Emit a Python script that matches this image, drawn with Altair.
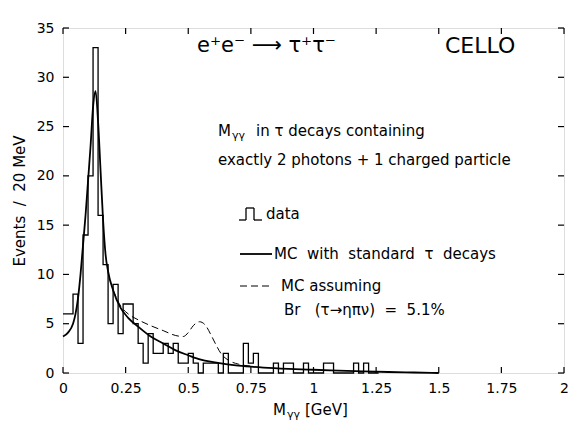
import altair as alt
import pandas as pd

# ---------------- data ----------------
bin_width = 0.02
counts = [6, 6, 8, 3, 14, 20, 33, 16, 11, 5,
          9, 4, 7, 7, 5, 3, 1, 4, 2, 2,
          3, 2, 3, 1, 1, 2, 1, 0, 1, 1,
          1, 0, 2, 0, 0, 0, 3, 1, 2, 0,
          0, 0, 1, 0, 1, 1, 0, 0, 1, 0,
          0, 0, 1, 1, 0, 0, 0, 0, 1, 0,
          1, 0, 0]

mc_std_x = [0.0, 0.02, 0.04, 0.05, 0.06, 0.07, 0.08, 0.09, 0.10, 0.11, 0.12, 0.13,
            0.14, 0.15, 0.16, 0.17, 0.18, 0.20, 0.23, 0.26, 0.30, 0.35, 0.40, 0.45,
            0.50, 0.55, 0.60, 0.65, 0.70, 0.80, 0.90, 1.00, 1.10, 1.20, 1.30, 1.40, 1.50]
mc_std_y = [3.7, 4.1, 5.0, 6.0, 7.6, 10.0, 13.0, 16.0, 19.5, 23.0, 27.0, 28.6,
            25.5, 20.5, 15.5, 12.0, 10.3, 8.4, 6.6, 5.6, 4.7, 3.7, 3.0, 2.3,
            1.8, 1.35, 1.1, 0.9, 0.75, 0.55, 0.42, 0.33, 0.25, 0.17, 0.1, 0.05, 0.0]

mc_eta_x = [0.20, 0.23, 0.26, 0.30, 0.35, 0.40, 0.45, 0.48, 0.50, 0.52, 0.545,
            0.57, 0.59, 0.61, 0.63, 0.66, 0.70, 0.75]
mc_eta_y = [8.4, 6.8, 6.0, 5.4, 4.8, 4.3, 3.8, 3.7, 4.1, 4.8, 5.2,
            4.8, 3.9, 2.9, 2.0, 1.3, 0.9, 0.7]

x_ticks = [0, 0.25, 0.5, 0.75, 1, 1.25, 1.5, 1.75, 2]
y_ticks = [0, 5, 10, 15, 20, 25, 30, 35]

NB = "\u00a0"
reaction_text = ["e⁺e⁻ ⟶ τ⁺τ⁻"]
experiment_text = ["CELLO"]
line1_main = ["M"]
line1_sub = ["γγ"]
line1_rest = ["in τ decays containing"]
line2_text = ["exactly 2 photons + 1 charged particle"]
legend_data = ["data"]
legend_std = [f"MC{NB} with{NB} standard{NB} τ{NB} decays"]
legend_eta1 = ["MC assuming"]
legend_eta2 = [f"Br{NB}{NB} (τ→ηπν){NB} ={NB} 5.1%"]
xtitle_main = ["M"]
xtitle_sub = ["γγ"]
xtitle_rest = ["[GeV]"]
ytitle = f"Events{NB} /{NB} 20{NB}MeV"

# ---------------- build ----------------
W, H = 501, 345
FONT = "DejaVu Sans"

edges = [round(i * bin_width, 4) for i in range(len(counts) + 1)]
hist_df = pd.DataFrame({"m": edges, "n": counts + [0]})
std_df = pd.DataFrame({"m": mc_std_x, "n": mc_std_y})
eta_df = pd.DataFrame({"m": mc_eta_x, "n": mc_eta_y})
xt_df = pd.DataFrame({"m": x_ticks})
yt_df = pd.DataFrame({"n": y_ticks})

xscale = alt.Scale(domain=[0, 2], nice=False, zero=False)
yscale = alt.Scale(domain=[0, 35], nice=False)

x_axis = alt.Axis(values=x_ticks, format=".3~g", title=None, domain=False, ticks=False,
                  grid=False, labelFont=FONT, labelFontSize=14, labelColor="black",
                  labelPadding=8, labelFlush=False)
y_axis = alt.Axis(values=y_ticks, format=".3~g", title=ytitle, domain=False, ticks=False,
                  grid=False, labelFont=FONT, labelFontSize=14, labelColor="black",
                  labelPadding=9, titleFont=FONT, titleFontSize=15, titleFontWeight="normal",
                  titleColor="black", titlePadding=9)

X = alt.X("m:Q", scale=xscale, axis=x_axis)
Y = alt.Y("n:Q", scale=yscale, axis=y_axis)

hist = alt.Chart(hist_df).mark_line(interpolate="step-after", color="black",
                                    strokeWidth=1.3).encode(x=X, y=Y)

std = alt.Chart(std_df).mark_line(interpolate="monotone", color="black",
                                  strokeWidth=1.8).encode(x=X, y=Y)

eta = alt.Chart(eta_df).mark_line(interpolate="monotone", color="black",
                                  strokeWidth=1.0, strokeDash=[7, 4]).encode(x=X, y=Y)

TL = 6
tick_layers = [
    alt.Chart(yt_df).mark_rule(color="black", strokeWidth=1.2).encode(
        y=Y, x=alt.value(0), x2=alt.value(TL)),
    alt.Chart(yt_df).mark_rule(color="black", strokeWidth=1.2).encode(
        y=Y, x=alt.value(W - TL), x2=alt.value(W)),
    alt.Chart(xt_df).mark_rule(color="black", strokeWidth=1.2).encode(
        x=X, y=alt.value(H - TL), y2=alt.value(H)),
    alt.Chart(xt_df).mark_rule(color="black", strokeWidth=1.2).encode(
        x=X, y=alt.value(0), y2=alt.value(TL)),
]


def txt(items, x, y, size, align="left", baseline="middle"):
    return alt.Chart(pd.DataFrame({"t": items})).mark_text(
        font=FONT, fontSize=size, align=align, baseline=baseline, color="black"
    ).encode(x=alt.value(x), y=alt.value(y), text="t:N")


def seg(x1, y1, x2, y2, width=1.3, dash=None):
    kw = dict(color="black", strokeWidth=width)
    if dash:
        kw["strokeDash"] = dash
    return alt.Chart(pd.DataFrame({"a": [0]})).mark_rule(**kw).encode(
        x=alt.value(x1), y=alt.value(y1), x2=alt.value(x2), y2=alt.value(y2))


DY = 186  # legend "data" row
texts = [
    txt(reaction_text, 134, 18, 21),
    txt(experiment_text, 382, 18, 22),
    txt(line1_main, 155, 103, 15),
    txt(line1_sub, 169, 108, 11),
    txt(line1_rest, 193, 103, 15),
    txt(line2_text, 155, 132, 15),
    txt(legend_data, 203, DY, 15),
    txt(legend_std, 211, 226, 15),
    txt(legend_eta1, 218, 258, 15),
    txt(legend_eta2, 221, 282, 15),
    txt(xtitle_main, 210, H + 37, 15),
    txt(xtitle_sub, 224, H + 42, 11),
    txt(xtitle_rest, 242, H + 37, 15),
]

# legend symbols
icons = [
    seg(176, DY + 6, 183, DY + 6), seg(183, DY + 6, 183, DY - 6), seg(183, DY - 6, 191, DY - 6),
    seg(191, DY - 6, 191, DY + 6), seg(191, DY + 6, 199, DY + 6),
    seg(177, 226, 209, 226, width=1.8),
    seg(177, 258, 210, 258, width=1.0, dash=[7, 4]),
]

chart = alt.layer(hist, std, eta, *tick_layers, *texts, *icons).properties(
    width=W, height=H,
    autosize=alt.AutoSizeParams(type="none"),
    padding={"left": 63, "top": 28, "right": 5, "bottom": 51},
).configure_view(stroke="black", strokeWidth=1.5).configure(background="white")

chart.save("out.html", embed_options={"renderer": "svg", "actions": False})
